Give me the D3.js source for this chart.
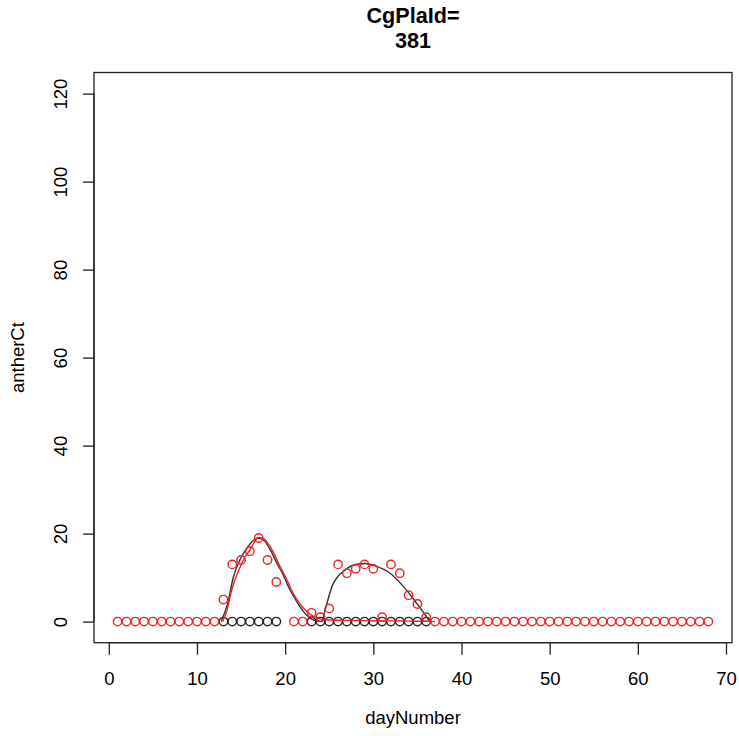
<!DOCTYPE html>
<html>
<head>
<meta charset="utf-8">
<script src="https://cdn.jsdelivr.net/npm/d3@7"></script>
<style>
  html, body { margin: 0; padding: 0; background: #fff; }
  svg { display: block; }
  text { font-family: "Liberation Sans", Arial, Helvetica, sans-serif; fill: #000; }
</style>
</head>
<body>
<svg id="chart" width="739" height="736"></svg>
<script>
// ---- data ----
const titleLines = ["CgPlaId=", "381"];
const xLabel = "dayNumber";
const yLabel = "antherCt";
const xTicks = [0, 10, 20, 30, 40, 50, 60, 70];
const yTicks = [0, 20, 40, 60, 80, 100, 120];

// black points (days, values)
const blackDays = [13,14,15,16,17,18,19,23,24,25,26,27,28,29,30,31,32,33,34,35,36];
const blackVals = [0,0,0,0,0,0,0,0,0,0,0,0,0,0,0,0,0,0,0,0,0];

// red points
const redDays = [1,2,3,4,5,6,7,8,9,10,11,12,
  13,14,15,16,17,18,19,21,22,23,24,25,26,27,28,29,30,31,32,33,34,35,36,
  37,38,39,40,41,42,43,44,45,46,47,48,49,50,51,52,53,54,55,56,57,58,59,60,61,62,63,64,65,66,67,68];
const redVals = [0,0,0,0,0,0,0,0,0,0,0,0,
  5,13,14,16,19,14,9,0,0,2,1,3,13,11,12,13,12,1,13,11,6,4,1,
  0,0,0,0,0,0,0,0,0,0,0,0,0,0,0,0,0,0,0,0,0,0,0,0,0,0,0,0,0,0,0,0];

// fitted curves
const blackCurve1Days = [12.75,13.5,14.1,14.8,15.5,16.0,16.5,16.9,17.5,18.4,19.0,19.75,20.5,21.3,22.0,22.8,23.5,24.3];
const blackCurve1Vals = [0,4.3,9.9,13.7,16.2,17.6,18.6,19.0,18.6,16.0,13.5,10.7,7.4,4.6,2.5,0.8,0.2,0];
const blackCurve2Days = [24.2,24.7,25.4,26.0,26.6,27.7,29.0,30.3,31.9,33.4,34.9,36.0,36.4];
const blackCurve2Vals = [0,3.9,8.4,10.3,11.4,12.8,13.2,12.6,11.0,8.0,4.2,1.2,0];
const redCurveDays = [12.9,13.4,13.9,14.8,15.5,16.0,16.5,16.9,17.5,18.6,19.3,20.1,20.8,21.6,22.4,23.2,24.0,24.7,26,28,30,32,34,36,37];
const redCurveVals = [0,2.5,6.9,12.0,14.8,16.3,18.0,19.1,18.9,16.0,13.0,9.9,6.9,4.2,2.4,1.2,0.6,0.4,0.3,0.25,0.2,0.15,0.1,0.05,0];

// ---- layout ----
const svg = d3.select("#chart");
const box = {left: 94, right: 732, top: 72.5, bottom: 642.7};

const x = d3.scaleLinear().domain([-1.68, 70.68]).range([box.left, box.right]);
const y = d3.scaleLinear().domain([-4.8, 124.8]).range([box.bottom, box.top]);

const ink = "#222";
const fontFam = "Liberation Sans, Arial, sans-serif";

// plot box
svg.append("rect")
  .attr("x", box.left).attr("y", box.top)
  .attr("width", box.right - box.left).attr("height", box.bottom - box.top)
  .attr("fill", "none").attr("stroke", ink).attr("stroke-width", 1.3);

// x axis
const xAxis = d3.axisBottom(x).tickValues(xTicks).tickSize(12).tickPadding(17).tickFormat(d3.format("d"));
const gx = svg.append("g").attr("transform", `translate(0,${box.bottom})`).call(xAxis);
gx.select(".domain").attr("d", `M${x(0)},0H${x(70)}`).attr("stroke", ink).attr("stroke-width", 1.3);
gx.selectAll(".tick line").attr("stroke", ink).attr("stroke-width", 1.3);
gx.selectAll(".tick text").attr("font-size", 18.5).attr("font-family", fontFam).attr("fill", "#000");

// y axis
const yAxis = d3.axisLeft(y).tickValues(yTicks).tickSize(11).tickFormat(d3.format("d"));
const gy = svg.append("g").attr("transform", `translate(${box.left},0)`).call(yAxis);
gy.select(".domain").attr("d", `M0,${y(0)}V${y(120)}`).attr("stroke", ink).attr("stroke-width", 1.3);
gy.selectAll(".tick line").attr("stroke", ink).attr("stroke-width", 1.3);
gy.selectAll(".tick text")
  .attr("font-size", 18.5).attr("font-family", fontFam).attr("fill", "#000")
  .attr("x", null).attr("dy", null)
  .attr("text-anchor", "middle")
  .attr("transform", `translate(${67 - box.left},0) rotate(-90)`);

// axis titles
svg.append("text").attr("x", (box.left + box.right) / 2).attr("y", 724)
  .attr("text-anchor", "middle").attr("font-size", 18.5).text(xLabel);
svg.append("text").attr("transform", `translate(24,${(box.top + box.bottom) / 2}) rotate(-90)`)
  .attr("text-anchor", "middle").attr("font-size", 18.5).text(yLabel);

// title
svg.append("text").attr("x", (box.left + box.right) / 2).attr("y", 23)
  .attr("text-anchor", "middle").attr("font-size", 21.6).attr("font-weight", "bold")
  .selectAll("tspan").data(titleLines).enter().append("tspan")
  .attr("x", (box.left + box.right) / 2).attr("dy", (d, i) => i === 0 ? 0 : 24.5).text(d => d);

// curves
const line = d3.line().x(d => x(d[0])).y(d => y(d[1])).curve(d3.curveMonotoneX);
const plot = svg.append("g");
function drawCurve(days, vals, color) {
  plot.append("path").datum(days.map((d, i) => [d, vals[i]]))
    .attr("d", line).attr("fill", "none").attr("stroke", color).attr("stroke-width", 1.4);
}

// black points
plot.selectAll("circle.blk").data(blackDays.map((d, i) => [d, blackVals[i]])).enter()
  .append("circle").attr("class", "blk")
  .attr("cx", d => x(d[0])).attr("cy", d => y(d[1])).attr("r", 4.2)
  .attr("fill", "none").attr("stroke", "#222").attr("stroke-width", 1.4);

drawCurve(blackCurve1Days, blackCurve1Vals, "#333");
drawCurve(blackCurve2Days, blackCurve2Vals, "#333");

// red points
plot.selectAll("circle.red").data(redDays.map((d, i) => [d, redVals[i]])).enter()
  .append("circle").attr("class", "red")
  .attr("cx", d => x(d[0])).attr("cy", d => y(d[1])).attr("r", 4.2)
  .attr("fill", "none").attr("stroke", "#ec2424").attr("stroke-width", 1.4);

drawCurve(redCurveDays, redCurveVals, "#ec2424");
</script>
</body>
</html>
